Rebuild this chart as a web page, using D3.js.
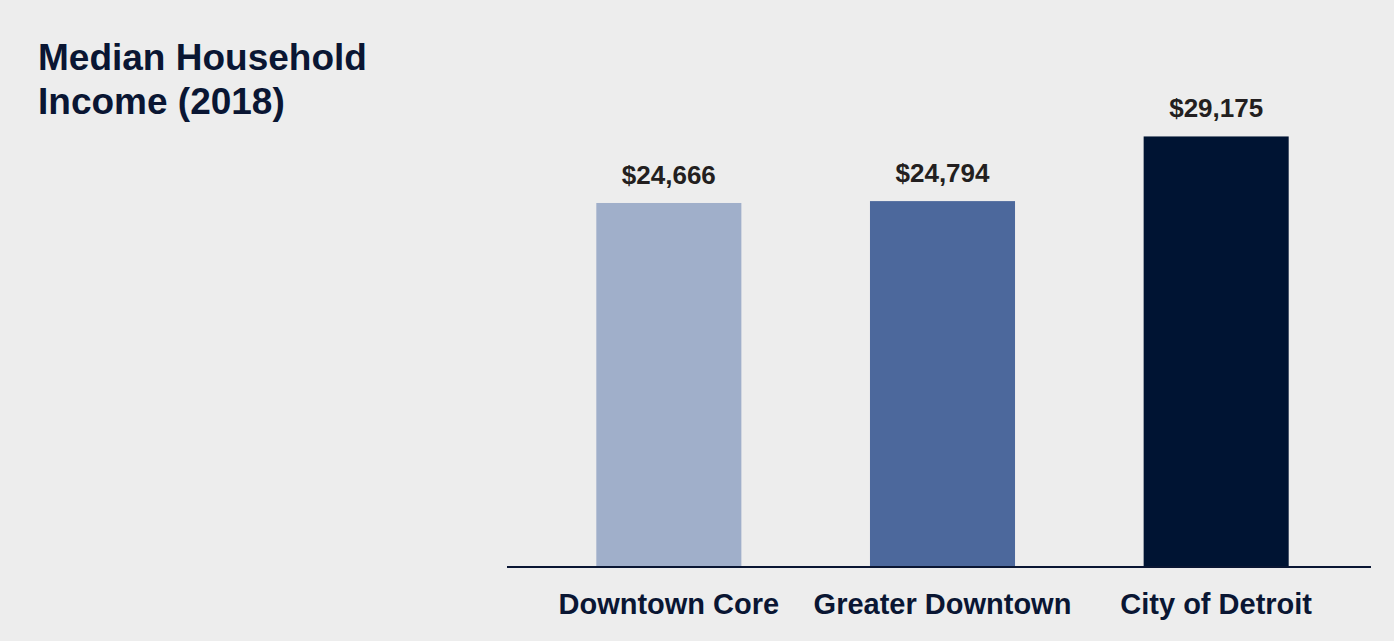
<!DOCTYPE html>
<html>
<head>
<meta charset="utf-8">
<script src="https://cdn.jsdelivr.net/npm/d3@7"></script>
<style>
  body { margin: 0; background: #ededed; }
</style>
</head>
<body>
<script>
// chart data
var categories = ["Downtown Core", "Greater Downtown", "City of Detroit"];
var incomes = [24666, 24794, 29175];
var barColours = ["#a0afca", "#4c689c", "#001433"];
var titleLines = ["Median Household", "Income (2018)"];

var width = 1394, height = 641;

var svg = d3.select("body")
            .append("svg")
            .attr("width", width)
            .attr("height", height)
            .attr("font-family", "'Liberation Sans', Arimo, Arial, sans-serif")
            .attr("font-weight", "bold");

svg.append("rect")
   .attr("width", width)
   .attr("height", height)
   .attr("fill", "#ededed");

var x = d3.scaleBand()
          .domain(categories)
          .range([532, 1353])
          .paddingInner(0.47)
          .paddingOuter(0.235);

var y = d3.scaleLinear()
          .domain([0, 33000])
          .range([567, 80]);

var data = categories.map(function(c, i) {
    return {name: c, value: incomes[i], colour: barColours[i]};
});

svg.selectAll("rect.bar")
   .data(data)
   .enter()
   .append("rect")
   .attr("class", "bar")
   .attr("x", function(d) { return x(d.name); })
   .attr("y", function(d) { return y(d.value); })
   .attr("width", x.bandwidth())
   .attr("height", function(d) { return y(0) - y(d.value); })
   .attr("fill", function(d) { return d.colour; });

// baseline
svg.append("line")
   .attr("x1", 507)
   .attr("x2", 1371)
   .attr("y1", y(0))
   .attr("y2", y(0))
   .attr("stroke", "#0a1633")
   .attr("stroke-width", 2);

// value labels
var fmt = d3.format("$,");
svg.selectAll("text.value")
   .data(data)
   .enter()
   .append("text")
   .attr("class", "value")
   .attr("x", function(d) { return x(d.name) + x.bandwidth() / 2; })
   .attr("y", function(d) { return y(d.value) - 19; })
   .attr("text-anchor", "middle")
   .attr("font-size", "26px")
   .attr("fill", "#231f20")
   .text(function(d) { return fmt(d.value); });

// category labels
svg.selectAll("text.cat")
   .data(data)
   .enter()
   .append("text")
   .attr("class", "cat")
   .attr("x", function(d) { return x(d.name) + x.bandwidth() / 2; })
   .attr("y", 614)
   .attr("text-anchor", "middle")
   .attr("font-size", "29px")
   .attr("fill", "#0a1633")
   .text(function(d) { return d.name; });

// title
svg.selectAll("text.title")
   .data(titleLines)
   .enter()
   .append("text")
   .attr("class", "title")
   .attr("x", 38)
   .attr("y", function(d, i) { return 70 + i * 44; })
   .attr("font-size", "37px")
   .attr("fill", "#0a1633")
   .text(function(d) { return d; });
</script>
</body>
</html>
